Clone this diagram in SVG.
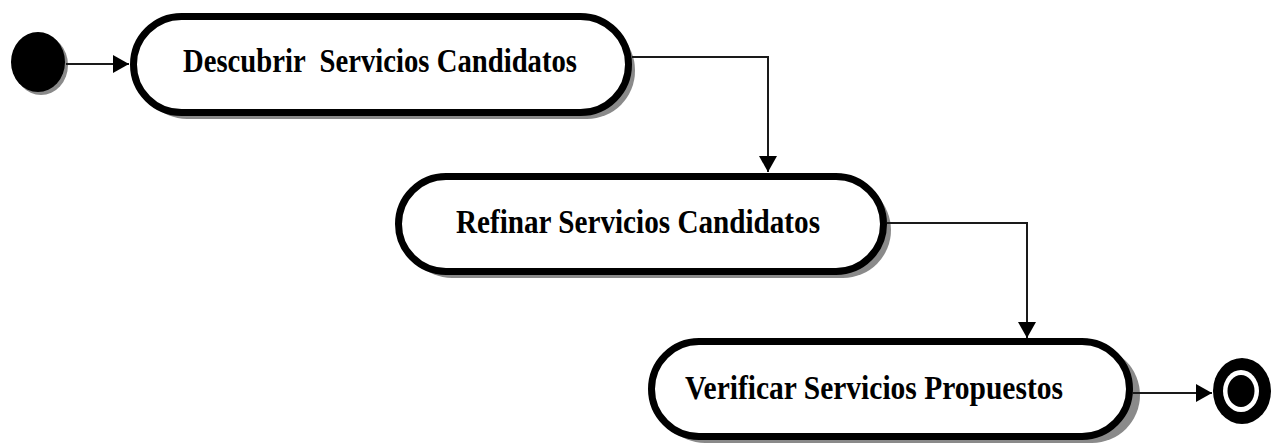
<svg xmlns="http://www.w3.org/2000/svg" width="1280" height="447" viewBox="0 0 1280 447">
  <style>
    .shadow { fill: #8a8a8a; stroke: none; }
    .act { fill: #ffffff; stroke: #000000; stroke-width: 7; }
    .label { font-family: "Liberation Serif", "Times New Roman", serif; font-weight: bold; font-size: 33px; fill: #000000; white-space: pre; }
    .flow { fill: none; stroke: #1a1a1a; stroke-width: 2; marker-end: url(#arrow); }
  </style>
  <defs>
    <marker id="arrow" viewBox="0 0 16 18" refX="16" refY="9" markerWidth="16" markerHeight="18" markerUnits="userSpaceOnUse" orient="auto">
      <path d="M0,0 L16,9 L0,18 Z" fill="#000000"/>
    </marker>
  </defs>

  <rect width="1280" height="447" fill="#ffffff"/>

  <!-- initial state -->
  <g id="start">
    <ellipse cx="41" cy="65" rx="27" ry="30" class="shadow"/>
    <ellipse cx="38" cy="62" rx="27" ry="30" fill="#000000"/>
  </g>

  <!-- activity: Descubrir Servicios Candidatos -->
  <g id="descubrir">
    <rect x="139" y="22" width="496" height="97" rx="48" ry="48" class="shadow"/>
    <rect x="133.5" y="16.5" width="495" height="96" rx="48" ry="48" class="act"/>
    <text x="183" y="72" class="label" textLength="394" lengthAdjust="spacingAndGlyphs" xml:space="preserve">Descubrir  Servicios Candidatos</text>
  </g>

  <!-- activity: Refinar Servicios Candidatos -->
  <g id="refinar">
    <rect x="404" y="182" width="487" height="96" rx="48" ry="48" class="shadow"/>
    <rect x="398.5" y="176.5" width="485" height="95" rx="47.5" ry="47.5" class="act"/>
    <text x="456" y="233" class="label" textLength="364" lengthAdjust="spacingAndGlyphs">Refinar Servicios Candidatos</text>
  </g>

  <!-- activity: Verificar Servicios Propuestos -->
  <g id="verificar">
    <rect x="657" y="347" width="483" height="96" rx="48" ry="48" class="shadow"/>
    <rect x="651.5" y="341.5" width="478" height="95" rx="47.5" ry="47.5" class="act"/>
    <text x="685" y="399" class="label" textLength="378" lengthAdjust="spacingAndGlyphs">Verificar Servicios Propuestos</text>
  </g>

  <!-- final state -->
  <g id="end">
    <ellipse cx="1242" cy="391" rx="29" ry="33" fill="#000000"/>
    <ellipse cx="1241" cy="391" rx="18" ry="21" fill="#ffffff"/>
    <ellipse cx="1241" cy="391" rx="13.5" ry="16" fill="#000000"/>
  </g>

  <!-- control flows -->
  <g id="connectors">
    <path d="M66,64 L129,64" class="flow"/>
    <path d="M632,57 L768,57 L768,172" class="flow"/>
    <path d="M887,223 L1027,223 L1027,338" class="flow"/>
    <path d="M1133,393 L1212,393" class="flow"/>
  </g>
</svg>
